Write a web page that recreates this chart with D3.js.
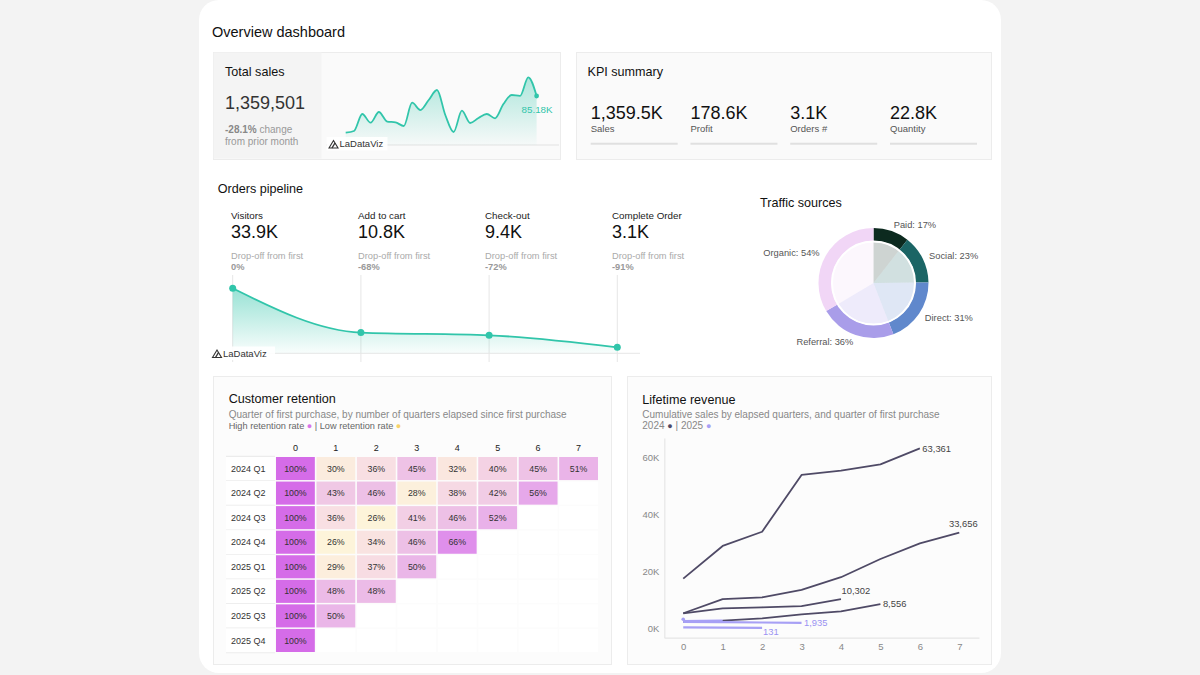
<!DOCTYPE html>
<html><head><meta charset="utf-8">
<script src="https://cdn.jsdelivr.net/npm/d3@7"></script>
<style>
html,body{margin:0;padding:0;background:#f3f3f3;}
svg{display:block;font-family:"Liberation Sans",Arial,Helvetica,sans-serif;}
</style></head>
<body><svg id="c" width="1200" height="675"></svg>
<script>
// ---------------- DATA ----------------
const totalSalesValue = "1,359,501";
const totalSalesChange = "-28.1%";
const sparkValues = [31.9,34.4,59.0,46.4,61.9,48.1,47.0,41.6,75.4,64.8,79.3,93.9,57.6,32.9,63.8,46.0,53.2,59.0,52.8,73.5,86.6,85.2,112.3,85.18];
const sparkLastLabel = "85.18K";

const kpiLabels = ["Sales","Profit","Orders #","Quantity"];
const kpiValues = ["1,359.5K","178.6K","3.1K","22.8K"];

const pipelineStages = ["Visitors","Add to cart","Check-out","Complete Order"];
const pipelineValues = [33.9,10.8,9.4,3.1];           // thousands
const pipelineLabels = ["33.9K","10.8K","9.4K","3.1K"];
const pipelineDrop = ["0%","-68%","-72%","-91%"];

const trafficSources = ["Paid","Social","Direct","Referral","Organic"];
const trafficValues = [17,23,31,36,54];
const trafficColors = ["#0c2a1f","#1b6565","#6088cc","#a99de9","#f1d6f6"];

const cohorts = ["2024 Q1","2024 Q2","2024 Q3","2024 Q4","2025 Q1","2025 Q2","2025 Q3","2025 Q4"];
const quarters = ["0","1","2","3","4","5","6","7"];
const retention = [
  [100,30,36,45,32,40,45,51],
  [100,43,46,28,38,42,56],
  [100,36,26,41,46,52],
  [100,26,34,46,66],
  [100,29,37,50],
  [100,48,48],
  [100,50],
  [100]
];

const revenue = [
  [5300,10300,10900,13500,18000,24400,29900,33656],
  [17500,29000,34000,54000,55500,57700,63361],
  [2300,2700,3500,4900,6000,8556],
  [5300,7000,7400,7850,10302],
  [2300,2200,2050,1935],
  [300,250,131],
  [2500,2700],
  [3200]
];
const revenueTicks = [0,20000,40000,60000];

// ---------------- DRAW ----------------
const svg = d3.select("#c");
const defs = svg.append("defs");
const TEAL = "#31c5aa";

svg.append("rect").attr("x",199).attr("y",0).attr("width",802).attr("height",673).attr("rx",20).attr("fill","#ffffff");
svg.append("text").attr("x",212).attr("y",37).attr("font-size",14.5).attr("fill","#111").text("Overview dashboard");

function panel(x,y,w,h,fill){
  svg.append("rect").attr("x",x+.5).attr("y",y+.5).attr("width",w).attr("height",h)
    .attr("fill",fill).attr("stroke","#ececec");
}
function txt(x,y,s,size,fill,opts={}){
  const t = svg.append("text").attr("x",x).attr("y",y).attr("font-size",size).attr("fill",fill).text(s);
  if(opts.weight) t.attr("font-weight",opts.weight);
  if(opts.anchor) t.attr("text-anchor",opts.anchor);
  return t;
}
function logo(x,y,w){
  const g = svg.append("g").attr("transform",`translate(${x},${y})`);
  g.append("rect").attr("width",w).attr("height",13.5).attr("fill","#ffffff").attr("opacity",0.9);
  g.append("path").attr("d","M2.5,11 L7,3.5 L11.5,11 Z").attr("fill","none").attr("stroke","#333").attr("stroke-width",1.1);
  g.append("path").attr("d","M5.5,11 L8.5,6").attr("stroke","#333").attr("stroke-width",1.4);
  g.append("text").attr("x",13).attr("y",10).attr("font-size",9.5).attr("fill","#333").text("LaDataViz");
}

// ---- Total sales ----
panel(213,52,347,107,"#fafafa");
svg.append("rect").attr("x",213.5).attr("y",52.5).attr("width",108).attr("height",106).attr("fill","#f4f4f4");
txt(225,76,"Total sales",12.6,"#111");
txt(225,109,totalSalesValue,18,"#333");
const ch = txt(225,133,"",10,"#999");
ch.append("tspan").attr("font-weight","bold").attr("fill","#888").text(totalSalesChange);
ch.append("tspan").text(" change");
txt(225,145,"from prior month",10,"#999");

const sgrad = defs.append("linearGradient").attr("id","sg").attr("x1",0).attr("x2",0).attr("y1",0).attr("y2",1);
sgrad.append("stop").attr("offset","0%").attr("stop-color",TEAL).attr("stop-opacity",0.38);
sgrad.append("stop").attr("offset","100%").attr("stop-color",TEAL).attr("stop-opacity",0.02);

const sx = d3.scalePoint().domain(sparkValues.map((d,i)=>i)).range([345.7,536.6]);
const sy = d3.scaleLinear().domain([30,d3.max(sparkValues)]).range([134,77.3]);
svg.append("line").attr("x1",326).attr("x2",559).attr("y1",145).attr("y2",145).attr("stroke","#e2e2e2");
svg.append("path").datum(sparkValues)
  .attr("d",d3.area().x((d,i)=>sx(i)).y0(145).y1(d=>sy(d)).curve(d3.curveMonotoneX))
  .attr("fill","url(#sg)");
svg.append("path").datum(sparkValues)
  .attr("d",d3.line().x((d,i)=>sx(i)).y(d=>sy(d)).curve(d3.curveMonotoneX))
  .attr("fill","none").attr("stroke",TEAL).attr("stroke-width",1.8);
const li = sparkValues.length-1;
svg.append("circle").attr("cx",sx(li)).attr("cy",sy(sparkValues[li])).attr("r",2.4).attr("fill",TEAL);
txt(sx(li)+16,sy(sparkValues[li])+17,sparkLastLabel,9.8,TEAL,{anchor:"end"});
logo(326.5,137,61);

// ---- KPI summary ----
panel(576,52,415,107,"#fafafa");
txt(587.5,76,"KPI summary",12.6,"#111");
const kx = d3.scalePoint().domain(kpiLabels).range([590.7,890]);
kpiLabels.forEach((k,i)=>{
  const x = kx(k);
  txt(x,119,kpiValues[i],18,"#111");
  txt(x,131.5,k,9.5,"#555");
  svg.append("line").attr("x1",x).attr("x2",x+87).attr("y1",143.7).attr("y2",143.7).attr("stroke","#e0e0e0").attr("stroke-width",2);
});

// ---- Orders pipeline ----
txt(217.7,193.3,"Orders pipeline",12.6,"#111");
const plx = d3.scalePoint().domain(pipelineStages).range([231,612]);
const ppx = d3.scalePoint().domain(pipelineStages).range([232.7,617.3]);
const ppy = d3.scaleLinear().domain([0,d3.max(pipelineValues)]).range([353.3,288.3]);
pipelineStages.forEach((s,i)=>{
  const x = plx(s);
  txt(x,219,s,9.8,"#222");
  txt(x,238.3,pipelineLabels[i],18,"#111");
  txt(x,259,"Drop-off from first",9.3,"#aaa");
  txt(x,270,pipelineDrop[i],9.3,"#999",{weight:"bold"});
  svg.append("line").attr("x1",ppx(s)).attr("x2",ppx(s)).attr("y1",275).attr("y2",362).attr("stroke","#e6e6e6");
});
svg.append("line").attr("x1",213).attr("x2",640).attr("y1",353.3).attr("y2",353.3).attr("stroke","#e6e6e6");
const pgrad = defs.append("linearGradient").attr("id","pg").attr("x1",0).attr("x2",0).attr("y1",0).attr("y2",1);
pgrad.append("stop").attr("offset","0%").attr("stop-color",TEAL).attr("stop-opacity",0.5);
pgrad.append("stop").attr("offset","100%").attr("stop-color",TEAL).attr("stop-opacity",0.03);
svg.append("path").datum(pipelineValues)
  .attr("d",d3.area().x((d,i)=>ppx(pipelineStages[i])).y0(353.3).y1(d=>ppy(d)).curve(d3.curveMonotoneX))
  .attr("fill","url(#pg)");
svg.append("path").datum(pipelineValues)
  .attr("d",d3.line().x((d,i)=>ppx(pipelineStages[i])).y(d=>ppy(d)).curve(d3.curveMonotoneX))
  .attr("fill","none").attr("stroke",TEAL).attr("stroke-width",1.8);
svg.selectAll(".pdot").data(pipelineValues).enter().append("circle")
  .attr("cx",(d,i)=>ppx(pipelineStages[i])).attr("cy",d=>ppy(d)).attr("r",3.5).attr("fill",TEAL);
logo(210,346.5,65);

// ---- Traffic sources ----
txt(760,206.7,"Traffic sources",12.6,"#111");
const cx = 873.5, cy = 283;
const pie = d3.pie().sort(null).value(d=>d)(trafficValues);
const dg = svg.append("g").attr("transform",`translate(${cx},${cy})`);
dg.selectAll(".ring").data(pie).enter().append("path")
  .attr("d",d3.arc().innerRadius(42).outerRadius(55))
  .attr("fill",(d,i)=>trafficColors[i]);
dg.selectAll(".inner").data(pie).enter().append("path")
  .attr("d",d3.arc().innerRadius(0).outerRadius(41))
  .attr("fill",(d,i)=>trafficColors[i]).attr("fill-opacity",0.2);
dg.append("circle").attr("r",41.5).attr("fill","none").attr("stroke","#fff").attr("stroke-width",2);
const labArc = d3.arc().innerRadius(62).outerRadius(62);
dg.selectAll(".lab").data(pie).enter().append("text")
  .attr("transform",d=>{const c=labArc.centroid(d);return `translate(${c[0]},${c[1]})`;})
  .attr("text-anchor",d=>labArc.centroid(d)[0]>0?"start":"end")
  .attr("dy","0.35em").attr("font-size",9.3).attr("fill","#555")
  .text((d,i)=>`${trafficSources[i]}: ${trafficValues[i]}%`);

// ---- Customer retention ----
panel(213,376,398,288,"#fcfcfc");
txt(228.7,403.3,"Customer retention",12.6,"#111");
txt(228.7,417.7,"Quarter of first purchase, by number of quarters elapsed since first purchase",10,"#888");
const lg = txt(228.7,429,"",9.2,"#666");
lg.append("tspan").text("High retention rate ");
lg.append("tspan").attr("fill","#d874e9").attr("font-size",9).text("●");
lg.append("tspan").text(" | Low retention rate ");
lg.append("tspan").attr("fill","#f6d36c").attr("font-size",9).text("●");

const hx = d3.scaleBand().domain(quarters).range([276,598]).paddingInner(0.04);
const hy = d3.scaleBand().domain(cohorts).range([457,652]).paddingInner(0.06);
const hcol = d3.scaleLinear().domain([26,36,45,56,66,100])
  .range(["#fdf4da","#f8dfe3","#eec2e6","#e6a8ea","#df8feb","#d56ce8"]);
quarters.forEach(q=>txt(hx(q)+hx.bandwidth()/2,451,q,9,"#222",{anchor:"middle"}));
cohorts.forEach((c,r)=>{
  const y = hy(c);
  svg.append("rect").attr("x",226).attr("y",y-0.5).attr("width",49).attr("height",hy.step()).attr("fill","#fff");
  svg.append("line").attr("x1",226).attr("x2",275).attr("y1",y+hy.step()-0.7).attr("y2",y+hy.step()-0.7).attr("stroke","#ececec").attr("stroke-width",1.2);
  txt(231,y+hy.bandwidth()/2,c,9,"#333").attr("dy","0.35em");
  quarters.forEach((q,j)=>{
    const v = retention[r][j];
    svg.append("rect").attr("x",hx(q)).attr("y",y).attr("width",hx.bandwidth()).attr("height",hy.bandwidth())
      .attr("fill",v==null?"#ffffff":hcol(v));
    if(v!=null) txt(hx(q)+hx.bandwidth()/2,y+hy.bandwidth()/2,v+"%",8.8,"#333",{anchor:"middle"}).attr("dy","0.35em");
  });
});
svg.append("line").attr("x1",226).attr("x2",275).attr("y1",456.3).attr("y2",456.3).attr("stroke","#ececec").attr("stroke-width",1.2);

// ---- Lifetime revenue ----
panel(627,376,364,288,"#fcfcfc");
txt(642.3,404.3,"Lifetime revenue",12.6,"#111");
txt(642.3,417.7,"Cumulative sales by elapsed quarters, and quarter of first purchase",10,"#888");
const COL24 = "#4f4a66", COL25 = "#a7a0f5";
const lg2 = txt(642.3,429,"",10,"#888");
lg2.append("tspan").text("2024 ");
lg2.append("tspan").attr("fill",COL24).attr("font-size",9).text("●");
lg2.append("tspan").text(" | 2025 ");
lg2.append("tspan").attr("fill",COL25).attr("font-size",9).text("●");

const lx = d3.scaleLinear().domain([-0.48,7.5]).range([664.3,979]);
const ly = d3.scaleLinear().domain([-3300,67000]).range([637.7,438]);
const ax = svg.append("g").attr("transform","translate(0,637.7)")
  .call(d3.axisBottom(lx).tickValues(quarters.map(Number)).tickSize(0).tickPadding(5.5).tickFormat(d3.format("d")));
const ay = svg.append("g").attr("transform","translate(664.3,0)")
  .call(d3.axisLeft(ly).tickValues(revenueTicks).tickSize(0).tickPadding(5).tickFormat(d=>(d/1000)+"K"));
[ax,ay].forEach(a=>{
  a.select(".domain").attr("stroke","#e6e6e6").attr("stroke-width",1.2);
  a.selectAll("text").attr("fill","#888").attr("font-size",9.5).attr("font-family","Liberation Sans, Arial, sans-serif");
});
const line = d3.line().x((d,i)=>lx(i)).y(d=>ly(d));
const labelPlace = {"2024 Q1":"above","2024 Q2":"right","2024 Q3":"right","2024 Q4":"aboveStart","2025 Q1":"right","2025 Q2":"below"};
cohorts.forEach((c,k)=>{
  const vals = revenue[k];
  const col = c.startsWith("2024") ? COL24 : COL25;
  if(vals.length>1){
    svg.append("path").datum(vals).attr("d",line).attr("fill","none").attr("stroke",col)
      .attr("stroke-width",col===COL24?1.8:2.2).attr("stroke-linejoin","round");
  } else {
    svg.append("circle").attr("cx",lx(0)).attr("cy",ly(vals[0])).attr("r",1.8).attr("fill",col);
  }
  const pl = labelPlace[c];
  if(!pl) return;
  const n = vals.length-1, x = lx(n), y = ly(vals[n]);
  const t = txt(x,y,d3.format(",")(vals[n]),9.4,col===COL24?"#444":"#9a92f2");
  if(pl==="right") t.attr("x",x+2.5).attr("dy","0.35em");
  if(pl==="above") t.attr("x",x+4).attr("y",y-5.5).attr("text-anchor","middle");
  if(pl==="aboveStart") t.attr("x",x+0.5).attr("y",y-5);
  if(pl==="below") t.attr("x",x+1).attr("y",y+7.5);
});
</script></body></html>
